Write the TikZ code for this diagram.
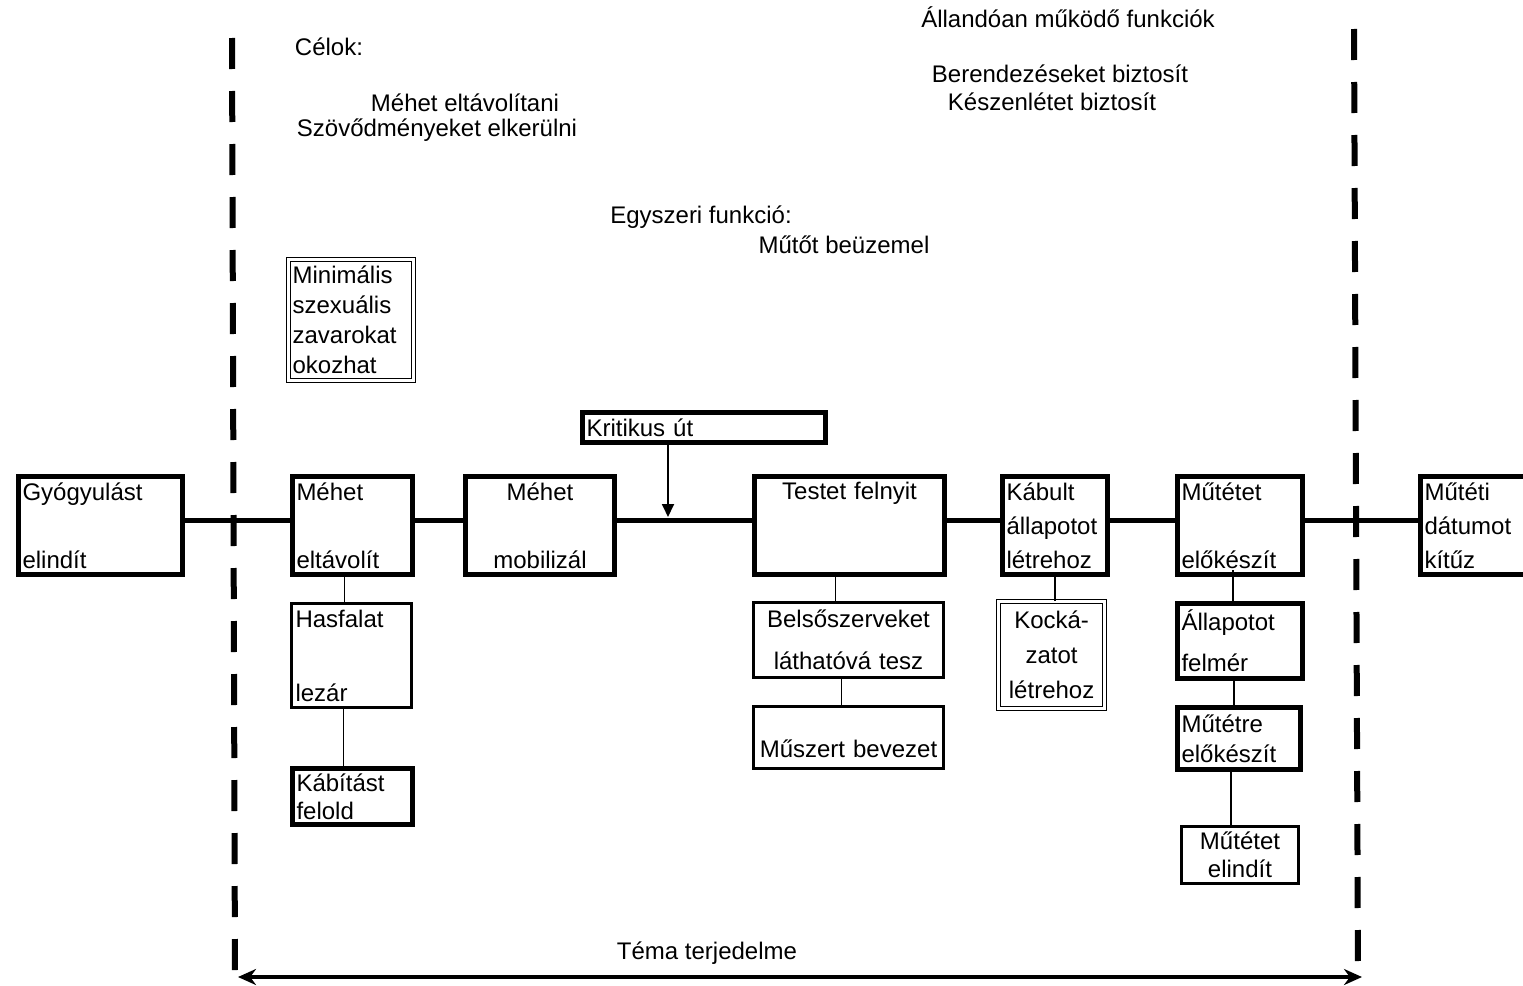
\documentclass[tikz,border=0pt]{standalone}
\usepackage{fontspec}
\setmainfont{Liberation Sans}
\usetikzlibrary{arrows.meta}
\tikzset{
	every node/.style={font=\fontsize{24}{28}\selectfont},
	taskbox/.style={draw, line width=5pt, anchor=north west, inner xsep=4pt, inner ysep=0pt, align=left},
	thinbox/.style={taskbox, line width=3pt},
	riskbox/.style={taskbox, line width=1.2pt, double, double distance=2.5pt},
	mainline/.style={line width=5pt},
	subline/.style={line width=1.8pt},
	scopeline/.style={line width=6pt, dash pattern=on 31pt off 22pt},
}
\begin{document}
\begin{tikzpicture}[x=1pt,y=-1pt]
		\useasboundingbox (0,0) rectangle (1523,985);
		\draw[scopeline] (232,38) -- (235,980);
		\draw[scopeline] (1354,29) -- (1358,972);
		\node (celok) at (329,47) {Célok:};
		\node (celok1) at (465,103) {Méhet eltávolítani};
		\node (celok2) at (437,130) {Szövődményeket elkerülni};
		\node (egysz) at (701,217) {Egyszeri funkció:};
		\node (egysz1) at (844,245) {Műtőt beüzemel};
		\node (alland) at (1068,17) {Állandóan működő funkciók};
		\node (berend) at (1060,74) {Berendezéseket biztosít};
		\node (keszen) at (1052,102) {Készenlétet biztosít};
		\node[riskbox, text width=117pt, minimum height=121pt] (minim) at (288,259) {Minimális\\[2pt]szexuális\\[2pt]zavarokat\\[2pt]okozhat};
		\node[taskbox, text width=235pt, minimum height=30pt] (krit) at (580,410) {Kritikus út};
		\node[taskbox, text width=156pt, minimum height=98pt] (gyogy) at (16,474) {Gyógyulást\\[40pt]elindít};
		\node[taskbox, text width=112pt, minimum height=98pt] (mehetel) at (290,474) {Méhet\\[40pt]eltávolít};
		\node[taskbox, text width=141pt, minimum height=98pt, align=center] (mehetmob) at (463,474) {Méhet\\[40pt]mobilizál};
		\node[taskbox, text width=182pt, minimum height=98pt, align=center] (testet) at (752,474) {Testet felnyit\\[41pt]\mbox{}};
		\node[taskbox, text width=97pt, minimum height=98pt] (kabult) at (1000,474) {Kábult\\[6pt]állapotot\\[6pt]létrehoz};
		\node[taskbox, text width=117pt, minimum height=98pt] (mutetelo) at (1175,474) {Műtétet\\[40pt]előkészít};
		\node[taskbox, text width=122pt, minimum height=98pt] (muteti) at (1418,474) {Műtéti\\[6pt]dátumot\\[6pt]kítűz};
		\node[thinbox, text width=112pt, minimum height=104pt] (hasfalat) at (290,602) {Hasfalat\\[46pt]lezár};
		\node[taskbox, text width=112pt, minimum height=56pt] (kabitast) at (290,766) {Kábítást\\felold};
		\node[thinbox, text width=182pt, minimum height=75pt, align=center] (belso) at (752,601) {Belsőszerveket\\[14pt]láthatóvá tesz};
		\node[thinbox, text width=182pt, minimum height=62pt, align=center] (muszert) at (752,705) {\mbox{}\\[12pt]Műszert bevezet};
		\node[riskbox, text width=98pt, minimum height=107pt, align=center] (kockaz) at (998,601) {Kocká-\\[7pt]zatot\\[7pt]létrehoz};
		\node[taskbox, text width=117pt, minimum height=75pt] (allapot) at (1175,601) {Állapotot\\[13pt]felmér};
		\node[taskbox, text width=115pt, minimum height=62pt] (mutetre) at (1175,705) {Műtétre\\[2pt]előkészít};
		\node[thinbox, text width=109pt, minimum height=57pt, align=center] (mutetind) at (1180,825) {Műtétet\\elindít};
		\node (tema) at (707,953) {Téma terjedelme};
		\draw[mainline] ([yshift=5pt]gyogy.east) -- ([yshift=5pt]mehetel.west);
		\draw[mainline] ([yshift=5pt]mehetel.east) -- ([yshift=5pt]mehetmob.west);
		\draw[mainline] ([yshift=5pt]mehetmob.east) -- ([yshift=5pt]testet.west);
		\draw[mainline] ([yshift=5pt]testet.east) -- ([yshift=5pt]kabult.west);
		\draw[mainline] ([yshift=5pt]kabult.east) -- ([yshift=5pt]mutetelo.west);
		\draw[mainline] ([yshift=5pt]mutetelo.east) -- ([yshift=5pt]muteti.west);
		\coordinate (kritpt) at (668,517);
		\draw[subline,-{Triangle[width=12pt,length=13pt]}] (krit.south -| kritpt) -- (kritpt);
		\draw[subline] ([xshift=-8pt]mehetel.south) -- ([xshift=-8pt]mehetel.south |- hasfalat.north);
		\draw[subline] ([xshift=-8pt]hasfalat.south) -- ([xshift=-8pt]hasfalat.south |- kabitast.north);
		\draw[subline] ([xshift=-14pt]testet.south) -- ([xshift=-14pt]testet.south |- belso.north);
		\draw[subline] ([xshift=-7pt]belso.south) -- ([xshift=-7pt]belso.south |- muszert.north);
		\draw[subline] (kabult.south) -- (kabult.south |- kockaz.north);
		\draw[subline] ([xshift=-7pt,yshift=7pt]mutetelo.south) -- ([xshift=-7pt]mutetelo.south |- allapot.north);
		\draw[subline] ([xshift=-6pt]allapot.south) -- ([xshift=-6pt]allapot.south |- mutetre.north);
		\draw[subline] ([xshift=-8pt]mutetre.south) -- ([xshift=-8pt]mutetre.south |- mutetind.north);
		\coordinate (temaL) at (238,977);
		\coordinate (temaR) at (1362,977);
		\draw[line width=4.5pt,{Stealth[length=18pt,width=16pt]}-{Stealth[length=18pt,width=16pt]}] (temaL) -- (temaR);
	\end{tikzpicture}
\end{document}
